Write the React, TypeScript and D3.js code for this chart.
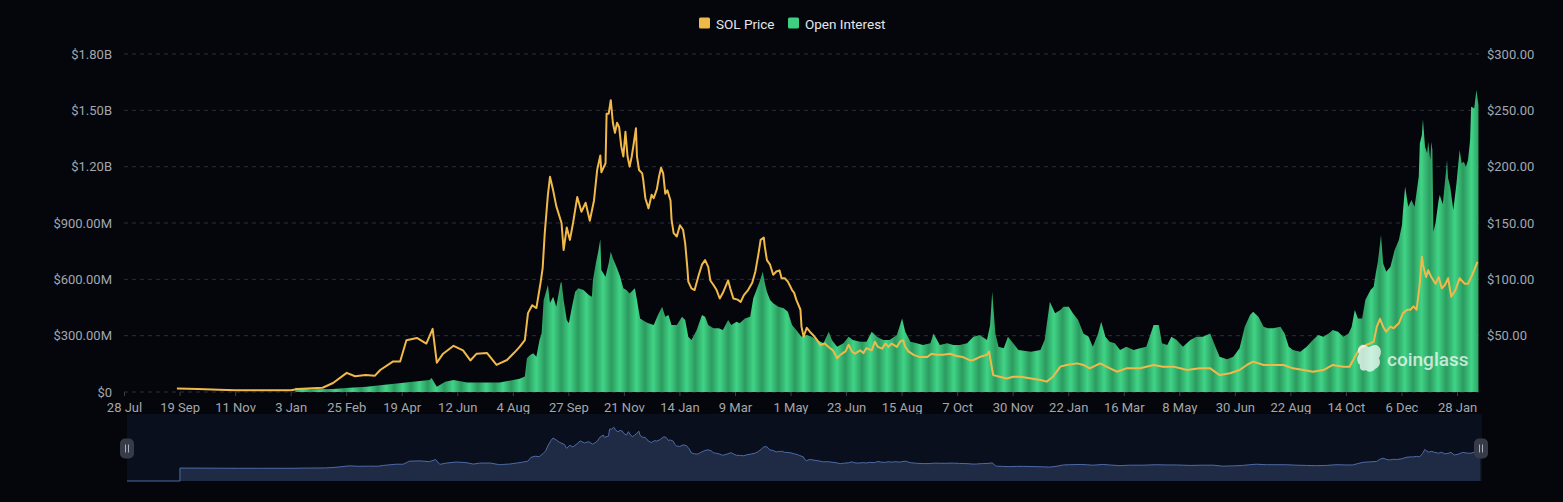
import React, { useEffect, useRef } from 'react';
import * as d3 from 'd3';

const WIDTH = 1563;
const HEIGHT = 502;

// category axis: one category per day, a label every 53 categories
const TICK_LABELS = [
  '28 Jul', '19 Sep', '11 Nov', '3 Jan', '25 Feb', '19 Apr', '12 Jun', '4 Aug', '27 Sep',
  '21 Nov', '14 Jan', '9 Mar', '1 May', '23 Jun', '15 Aug', '7 Oct', '30 Nov', '22 Jan',
  '16 Mar', '8 May', '30 Jun', '22 Aug', '14 Oct', '6 Dec', '28 Jan',
];
const TICK_EVERY = 53;
const LAST_DAY = 1292;

// left axis in millions of USD, right axis in USD
const OI_TICKS = [0, 300, 600, 900, 1200, 1500, 1800];
const PRICE_TICKS = [50, 100, 150, 200, 250, 300];

// [day, SOL price in USD]
const SOL_PRICE: [number, number][] = [
  [50, 3.0], [70, 2.6], [90, 2.0], [106, 1.6], [130, 1.6], [159, 1.5], [165, 2.6], [189, 3.8],
  [199, 8], [212, 17], [220, 14], [230, 15], [239, 14.5], [244, 19.5], [256, 27], [263, 27],
  [269, 46], [279, 48], [288, 43], [294, 56], [298, 26], [304, 34], [314, 41], [323, 37],
  [330, 28], [336, 34], [346, 34.6], [355, 24], [358, 25.4], [365, 28.4], [372, 35], [377, 40],
  [382, 46], [385, 70], [389, 77], [393, 74.5], [397, 97], [399, 110], [401, 141], [404, 175],
  [406, 191], [409, 179], [412, 165], [417, 150], [419, 126], [422, 146], [425, 135], [428, 150],
  [432, 173], [436, 160], [440, 168], [444, 152], [448, 170], [451, 197], [454, 210], [455, 195],
  [459, 203], [460, 247], [462, 247], [464, 259], [466, 239], [468, 230], [470, 239], [472, 235],
  [474, 218], [476, 209], [478, 231], [480, 209], [482, 200], [484, 209], [486, 221], [488, 234],
  [489, 209], [491, 197], [494, 194], [495, 188], [497, 172], [500, 163], [503, 175], [505, 172],
  [508, 180], [510, 191], [512, 199], [514, 194], [516, 176], [518, 179], [521, 170], [522, 153],
  [524, 141], [527, 138], [530, 148], [533, 144], [535, 132], [537, 111], [538, 98], [541, 92],
  [544, 90.5], [548, 104], [551, 113], [554, 117], [557, 111], [559, 99], [562, 95], [565, 90.5],
  [568, 83], [571, 88], [576, 99], [578, 92], [581, 83], [585, 82], [588, 80], [591, 86],
  [595, 90.5], [599, 97], [602, 107], [605, 123], [607, 135], [610, 137], [611, 129], [613, 117],
  [616, 113], [619, 104], [622, 107], [625, 108], [627, 101], [630, 101], [633, 98], [637, 90.5],
  [639, 88], [641, 82], [645, 73], [646, 58], [648, 49], [651, 57], [654, 53.5], [657, 50.6],
  [661, 46], [664, 41.7], [668, 43], [673, 39], [676, 37], [680, 30], [683, 33], [688, 36],
  [691, 42], [694, 36], [697, 34], [702, 37], [705, 34.5], [708, 39], [713, 37], [716, 44.6],
  [719, 40], [723, 38.5], [726, 43], [729, 40], [732, 43], [737, 40], [740, 44.6], [743, 46],
  [745, 40], [748, 36], [753, 33], [759, 31], [766, 31], [770, 34], [775, 33], [781, 33],
  [788, 34], [794, 32], [800, 31], [807, 28], [810, 28.4], [816, 31], [823, 33], [825, 36],
  [828, 19.5], [829, 15], [835, 13.6], [842, 12], [848, 13.6], [855, 13.6], [874, 10.6], [880, 9.2],
  [886, 13.6], [893, 22.5], [899, 24], [909, 25.4], [915, 24], [921, 21], [931, 25.4], [937, 22.5],
  [947, 18], [956, 21], [969, 21], [982, 24], [991, 22.5], [1001, 22.5], [1014, 19.5], [1026, 21],
  [1036, 21], [1045, 15], [1055, 16.6], [1064, 19.5], [1071, 24], [1077, 27], [1087, 24], [1096, 24],
  [1106, 24], [1115, 21], [1125, 19.5], [1134, 18], [1144, 19.5], [1153, 24], [1163, 22.5], [1169, 22.5],
  [1174, 31], [1179, 39], [1185, 41.7], [1192, 44.6], [1195, 58], [1198, 65], [1201, 58], [1204, 53.5],
  [1208, 58], [1211, 56.5], [1216, 61], [1220, 70], [1224, 73], [1227, 73], [1230, 76], [1233, 73],
  [1236, 96], [1238, 120], [1239, 113], [1242, 102], [1244, 108], [1247, 102], [1251, 96], [1254, 102],
  [1257, 92], [1260, 95], [1263, 101], [1266, 84.6], [1270, 90.5], [1274, 101], [1279, 96], [1282, 96],
  [1286, 104], [1291, 115.6],
];

// [day, open interest in millions of USD]
const OPEN_INTEREST: [number, number][] = [
  [163, 23], [177, 15], [199, 16], [215, 22], [231, 28], [246, 37], [262, 46], [275, 55],
  [291, 64], [293, 75], [298, 28], [306, 55], [314, 64], [327, 50], [342, 50], [358, 50],
  [371, 64], [377, 70], [382, 82], [384, 180], [387, 197], [390, 206], [393, 188], [396, 277],
  [398, 312], [400, 490], [404, 570], [406, 474], [409, 507], [412, 454], [416, 579], [417, 587],
  [419, 490], [422, 383], [424, 366], [427, 454], [430, 534], [433, 552], [438, 543], [443, 516],
  [446, 507], [447, 596], [450, 694], [452, 747], [454, 813], [455, 650], [459, 614], [462, 685],
  [464, 747], [466, 712], [470, 659], [473, 614], [476, 552], [479, 543], [482, 525], [487, 552],
  [489, 490], [492, 392], [497, 374], [500, 366], [505, 357], [509, 410], [513, 454], [516, 401],
  [519, 410], [522, 357], [527, 357], [532, 401], [535, 383], [538, 294], [541, 277], [546, 330],
  [551, 410], [554, 401], [557, 357], [562, 339], [567, 339], [571, 330], [576, 383], [579, 357],
  [584, 374], [587, 366], [592, 392], [597, 401], [600, 499], [603, 543], [606, 587], [609, 640],
  [611, 579], [613, 534], [616, 490], [619, 472], [624, 454], [629, 446], [633, 428], [637, 357],
  [641, 330], [646, 294], [651, 304], [656, 294], [661, 277], [667, 259], [672, 321], [675, 277],
  [680, 241], [686, 259], [691, 294], [695, 277], [702, 268], [708, 268], [713, 321], [718, 294],
  [724, 277], [730, 277], [737, 304], [742, 392], [745, 321], [750, 268], [756, 259], [762, 250],
  [769, 259], [772, 312], [778, 250], [785, 259], [791, 250], [797, 250], [804, 259], [810, 294],
  [816, 304], [823, 277], [826, 357], [828, 534], [831, 312], [834, 241], [839, 233], [843, 294],
  [848, 259], [853, 224], [865, 215], [874, 224], [878, 277], [883, 481], [888, 419], [893, 437],
  [896, 454], [901, 454], [905, 419], [910, 383], [915, 312], [920, 294], [924, 241], [929, 312],
  [932, 374], [936, 294], [940, 268], [945, 259], [950, 224], [956, 241], [963, 224], [969, 233],
  [975, 241], [982, 357], [987, 357], [990, 259], [995, 250], [999, 294], [1004, 277], [1010, 241],
  [1017, 277], [1023, 294], [1029, 294], [1036, 312], [1041, 241], [1045, 188], [1052, 174], [1058, 188],
  [1064, 233], [1069, 348], [1074, 410], [1077, 428], [1082, 401], [1087, 348], [1091, 339], [1096, 339],
  [1103, 348], [1107, 312], [1111, 241], [1115, 224], [1122, 215], [1128, 241], [1134, 277], [1139, 304],
  [1144, 294], [1149, 312], [1153, 330], [1158, 321], [1163, 294], [1168, 312], [1171, 348], [1174, 437],
  [1177, 392], [1181, 392], [1184, 490], [1189, 543], [1192, 561], [1194, 632], [1196, 694], [1199, 836],
  [1201, 685], [1204, 640], [1208, 667], [1212, 756], [1216, 809], [1219, 889], [1220, 969], [1222, 1093],
  [1224, 1022], [1225, 986], [1228, 1022], [1231, 986], [1235, 1147], [1236, 1324], [1238, 1369], [1239, 1452],
  [1241, 1306], [1243, 1271], [1244, 1333], [1246, 1235], [1247, 1333], [1248, 1289], [1249, 853], [1251, 900],
  [1254, 1022], [1255, 1049], [1258, 1000], [1262, 1235], [1263, 1138], [1265, 1093], [1268, 969], [1271, 1111],
  [1274, 1289], [1276, 1218], [1278, 1226], [1280, 1200], [1282, 1235], [1284, 1342], [1285, 1519], [1288, 1511],
  [1290, 1608], [1292, 1528],
];

const FONT = "Roboto, 'Noto Sans', sans-serif";
const BG = '#04060b';
const GRID = '#2a2e36';
const AXIS_TEXT = '#a3a6ad';
const PRICE_COLOR = '#f0b94a';
const OI_LIGHT = '#40d486';
const OI_DARK = '#2c9a5f';

const fmtOI = (m: number) => {
  if (m === 0) return '$0';
  if (m >= 1000) return `$${(m / 1000).toFixed(2)}B`;
  return `$${m.toFixed(2)}M`;
};

const App = () => {
  const svgRef = useRef<SVGSVGElement>(null);

  useEffect(() => {
    const svg = d3.select(svgRef.current);
    svg.selectAll('*').remove();

    const plot = { left: 124, right: 1479, top: 54, bottom: 392 };

    const x = d3.scaleLinear().domain([-0.5, LAST_DAY + 0.5]).range([plot.left, plot.right]);
    const yOI = d3.scaleLinear().domain([0, 1800]).range([plot.bottom, plot.top]);
    const yPrice = d3.scaleLinear().domain([0, 300]).range([plot.bottom, plot.top]);

    svg.append('rect').attr('width', WIDTH).attr('height', HEIGHT).attr('fill', BG);

    // striped fill for the open interest bars
    const defs = svg.append('defs');
    const grad = defs.append('linearGradient').attr('id', 'oiGrad')
      .attr('x1', 0).attr('x2', 1).attr('y1', 0).attr('y2', 0);
    grad.append('stop').attr('offset', '0%').attr('stop-color', OI_DARK);
    grad.append('stop').attr('offset', '50%').attr('stop-color', OI_LIGHT);
    grad.append('stop').attr('offset', '100%').attr('stop-color', OI_DARK);
    const pattern = defs.append('pattern').attr('id', 'oiStripes')
      .attr('patternUnits', 'userSpaceOnUse')
      .attr('x', 10.25).attr('y', 0).attr('width', 16.7).attr('height', HEIGHT);
    pattern.append('rect').attr('width', 16.7).attr('height', HEIGHT).attr('fill', 'url(#oiGrad)');

    // grid
    svg.append('g').selectAll('line')
      .data(OI_TICKS)
      .join('line')
      .attr('x1', plot.left).attr('x2', plot.right)
      .attr('y1', d => yOI(d)).attr('y2', d => yOI(d))
      .attr('stroke', GRID).attr('stroke-dasharray', '4 4').attr('stroke-width', 1);

    // axis labels
    svg.append('g').selectAll('text')
      .data(OI_TICKS)
      .join('text')
      .attr('x', 112).attr('y', d => yOI(d))
      .attr('text-anchor', 'end').attr('dominant-baseline', 'central')
      .style('font-family', FONT).style('font-size', '13px').attr('fill', AXIS_TEXT)
      .text(d => fmtOI(d));

    svg.append('g').selectAll('text')
      .data(PRICE_TICKS)
      .join('text')
      .attr('x', 1487).attr('y', d => yPrice(d))
      .attr('text-anchor', 'start').attr('dominant-baseline', 'central')
      .style('font-family', FONT).style('font-size', '13px').attr('fill', AXIS_TEXT)
      .text(d => `$${d.toFixed(2)}`);

    const xTicks = TICK_LABELS.map((label, i) => ({ label, day: i * TICK_EVERY }));
    svg.append('g').selectAll('line')
      .data(xTicks)
      .join('line')
      .attr('x1', d => x(d.day)).attr('x2', d => x(d.day))
      .attr('y1', plot.bottom).attr('y2', plot.bottom + 4)
      .attr('stroke', '#3a3e47');
    svg.append('g').selectAll('text')
      .data(xTicks)
      .join('text')
      .attr('x', d => x(d.day)).attr('y', 407)
      .attr('text-anchor', 'middle').attr('dominant-baseline', 'central')
      .style('font-family', FONT).style('font-size', '13px').attr('fill', AXIS_TEXT)
      .text(d => d.label);

    // open interest
    const oiArea = d3.area<[number, number]>()
      .x(d => x(d[0]))
      .y0(plot.bottom)
      .y1(d => yOI(d[1]));
    svg.append('path')
      .datum(OPEN_INTEREST)
      .attr('d', oiArea)
      .attr('fill', 'url(#oiStripes)');

    // SOL price
    const priceLine = d3.line<[number, number]>()
      .x(d => x(d[0]))
      .y(d => yPrice(d[1]));
    svg.append('path')
      .datum(SOL_PRICE)
      .attr('d', priceLine)
      .attr('fill', 'none')
      .attr('stroke', PRICE_COLOR)
      .attr('stroke-width', 2)
      .attr('stroke-linejoin', 'round');

    // watermark
    const wm = svg.append('g').attr('opacity', 0.72);
    wm.append('path')
      .attr('transform', 'translate(1369,358)')
      .attr('d', 'M-9,-12 C-6,-15 -2,-12 0,-11 C3,-12 7,-15 10,-11 C13,-8 12,-3 10,0 C12,4 11,9 6,11 C4,14 -1,15 -3,12 C-7,14 -10,11 -9,7 C-13,4 -12,-2 -10,-4 C-12,-7 -11,-10 -9,-12 Z')
      .attr('fill', '#ffffff');
    wm.append('text')
      .attr('x', 1387).attr('y', 366)
      .style('font-family', FONT).style('font-size', '19px').style('font-weight', 500)
      .attr('fill', '#ffffff')
      .text('coinglass');

    // legend
    const legend = [
      { label: 'SOL Price', color: PRICE_COLOR, x: 699 },
      { label: 'Open Interest', color: '#3ecf80', x: 788 },
    ];
    const lg = svg.append('g').selectAll('g').data(legend).join('g');
    lg.append('rect')
      .attr('x', d => d.x).attr('y', 17.5).attr('width', 11).attr('height', 11).attr('rx', 1.5)
      .attr('fill', d => d.color);
    lg.append('text')
      .attr('x', d => d.x + 17).attr('y', 23.5).attr('dominant-baseline', 'central')
      .style('font-family', FONT).style('font-size', '13.5px').attr('fill', '#e4e6ea')
      .text(d => d.label);

    // overview slider
    const ov = { left: 127, right: 1482, top: 414, bottom: 481 };
    const xo = d3.scaleLinear().domain(x.domain()).range([ov.left, ov.right]);
    const yo = d3.scaleLinear().domain([-78, 260]).range([ov.bottom, 427]);
    svg.append('rect')
      .attr('x', ov.left).attr('y', ov.top).attr('width', ov.right - ov.left).attr('height', ov.bottom - ov.top)
      .attr('fill', '#0a0f1d');
    const firstDay = SOL_PRICE[0][0];
    const ovPoints: [number, number][] = [
      [xo(-0.5), ov.bottom], [xo(firstDay), ov.bottom],
      ...SOL_PRICE.map(d => [xo(d[0]), yo(d[1])] as [number, number]),
    ];
    svg.append('path')
      .datum(ovPoints)
      .attr('d', d3.area<[number, number]>().x(d => d[0]).y0(ov.bottom).y1(d => d[1]))
      .attr('fill', '#1f2a45');
    svg.append('path')
      .datum(ovPoints)
      .attr('d', d3.line<[number, number]>().x(d => d[0]).y(d => d[1]))
      .attr('fill', 'none').attr('stroke', '#4d6aa6').attr('stroke-width', 1);

    const handles = svg.append('g').selectAll('g')
      .data([ov.left, ov.right - 1])
      .join('g')
      .attr('transform', d => `translate(${d},${(ov.top + ov.bottom) / 2 + 1})`);
    handles.append('rect')
      .attr('x', -7).attr('y', -10).attr('width', 14).attr('height', 20).attr('rx', 5)
      .attr('fill', '#363b47');
    handles.selectAll('line')
      .data([-1.5, 1.5])
      .join('line')
      .attr('x1', d => d).attr('x2', d => d).attr('y1', -4).attr('y2', 4)
      .attr('stroke', '#a9aeb8').attr('stroke-width', 1);
  }, []);

  return (
    <svg
      ref={svgRef}
      width={WIDTH}
      height={HEIGHT}
      style={{ position: 'absolute', left: 0, top: 0, display: 'block' }}
    />
  );
};

export default App;
